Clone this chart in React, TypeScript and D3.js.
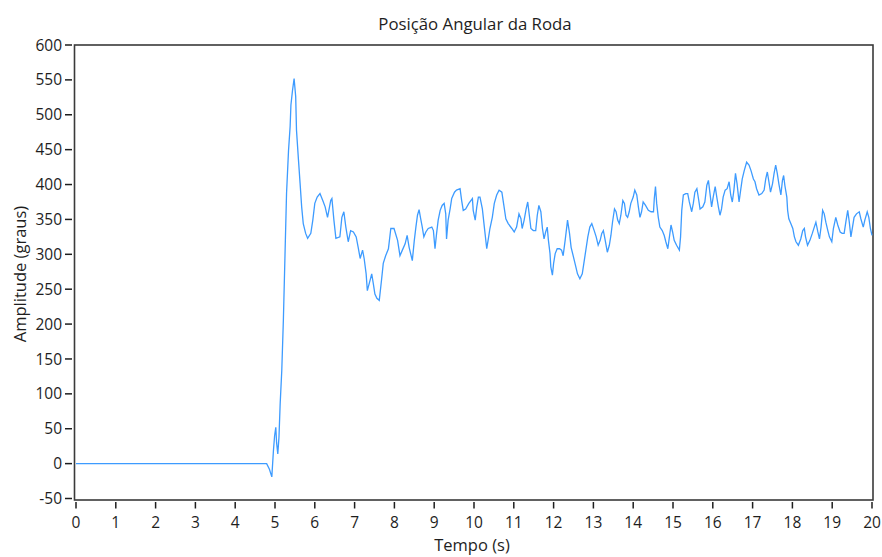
import React, { useEffect, useRef } from 'react';
import * as d3 from 'd3';

// tempo (s) e posição angular (graus)
const tempo = [
  0, 4.79, 4.86, 4.92, 4.96, 4.99, 5.02, 5.04, 5.07, 5.1, 5.13, 5.17, 5.21, 5.25, 5.29, 5.34, 5.38, 5.4, 5.44, 5.48,
  5.52, 5.54, 5.59, 5.63, 5.67, 5.71, 5.77, 5.82, 5.9, 5.95, 6.0, 6.06, 6.13, 6.2, 6.26, 6.32, 6.37, 6.4, 6.43, 6.48,
  6.53, 6.63, 6.68, 6.73, 6.78, 6.84, 6.9, 6.97, 7.04, 7.09, 7.14, 7.2, 7.24, 7.29, 7.32, 7.39, 7.43, 7.47, 7.51, 7.56,
  7.62, 7.68, 7.72, 7.78, 7.85, 7.91, 7.99,
  8.08, 8.14, 8.2, 8.27, 8.32, 8.37, 8.42, 8.45, 8.5, 8.54, 8.58, 8.62, 8.66, 8.7, 8.74, 8.79, 8.85, 8.94, 8.98, 9.02,
  9.06, 9.1, 9.15, 9.2, 9.25, 9.29, 9.31, 9.35, 9.4, 9.44, 9.51, 9.56, 9.65, 9.69, 9.73, 9.79, 9.87, 9.96, 9.98, 10.03,
  10.07, 10.11, 10.15, 10.21, 10.26, 10.32, 10.36, 10.4, 10.46, 10.51, 10.57, 10.63, 10.7, 10.75, 10.8, 10.86, 10.95, 11.01,
  11.07, 11.13, 11.18, 11.21, 11.26, 11.31, 11.35, 11.39, 11.43, 11.49, 11.55, 11.59, 11.63, 11.68, 11.72, 11.76, 11.8,
  11.84, 11.87, 11.91, 11.93, 11.97, 12.0, 12.04, 12.09, 12.15, 12.2, 12.24, 12.29, 12.33, 12.35, 12.4, 12.44, 12.5, 12.55,
  12.6, 12.66, 12.72, 12.76, 12.81, 12.86, 12.91, 12.96, 13.02, 13.07, 13.12, 13.17, 13.21, 13.25, 13.29, 13.35, 13.4,
  13.44, 13.48, 13.53, 13.57, 13.61, 13.65, 13.69, 13.74, 13.78, 13.82, 13.86, 13.9, 13.94, 14.0, 14.04,
  14.09, 14.13, 14.17, 14.21, 14.25, 14.31, 14.38, 14.45, 14.51, 14.53, 14.56, 14.59, 14.63, 14.67, 14.73, 14.78, 14.82,
  14.87, 14.91, 14.95, 14.99, 15.03, 15.09, 15.16, 15.19, 15.22, 15.26, 15.32, 15.37, 15.41, 15.47, 15.51, 15.55, 15.6,
  15.64, 15.68, 15.75, 15.8, 15.85, 15.89, 15.93, 15.97, 16.01, 16.06, 16.1, 16.14, 16.18, 16.22, 16.26, 16.31, 16.36,
  16.41, 16.45, 16.49, 16.53, 16.57, 16.61, 16.66, 16.7, 16.74, 16.79, 16.85, 16.91, 16.96, 17.02,
  17.06, 17.1, 17.16, 17.23, 17.29, 17.33, 17.37, 17.41, 17.45, 17.5, 17.54, 17.58, 17.62, 17.66, 17.71, 17.75, 17.78,
  17.81, 17.86, 17.88, 17.91, 17.96, 18.01, 18.05, 18.09, 18.15, 18.21, 18.26, 18.3, 18.33, 18.38, 18.44, 18.5, 18.55,
  18.59, 18.64, 18.68, 18.72, 18.76, 18.8, 18.84, 18.89, 18.93, 18.99, 19.03, 19.09, 19.14, 19.2, 19.25, 19.3, 19.35,
  19.39, 19.43, 19.47, 19.51, 19.55, 19.61, 19.68, 19.72, 19.78, 19.82, 19.88, 19.92, 19.96, 20.0,
];

const angulo = [
  0, 0, -8, -19, 18, 40, 52, 30, 14, 38, 86, 133, 205, 296, 387, 449, 483, 514, 535, 552,
  526, 478, 435, 402, 368, 344, 330, 323, 330, 349, 373, 382, 387, 377, 368, 353, 368, 377, 380, 349,
  323, 325, 353, 361, 339, 318, 334, 332, 325, 310, 294, 306, 294, 272, 248, 263, 272, 258, 243, 237,
  234, 265, 287, 298, 308, 337, 337,
  320, 298, 306, 315, 327, 310, 298, 291, 320, 339, 356, 364, 351, 339, 325, 332, 337, 339, 334, 308,
  330, 349, 363, 370, 373, 358, 322, 349, 365, 380, 389, 392, 394, 377, 363, 365, 373, 380, 363, 349,
  368, 382, 382, 365, 339, 308, 322, 337, 353, 373, 385, 392, 389, 370, 351, 344, 337, 332,
  339, 358, 351, 337, 349, 365, 375, 356, 337, 334, 334, 356, 370, 361, 337, 322, 332,
  339, 320, 301, 282, 270, 287, 301, 308, 308, 306, 298, 320, 339, 349, 330, 310, 296, 284,
  272, 265, 272, 287, 306, 325, 339, 344, 334, 325, 313, 320, 330, 334, 322, 303, 313,
  327, 346, 365, 361, 349, 344, 356, 377, 373, 356, 353, 361, 373, 382, 392,
  385, 368, 353, 361, 375, 370, 363, 361, 361, 380, 397, 373, 353, 339, 334, 327, 318,
  308, 325, 342, 332, 320, 313, 306, 325, 363, 385, 387, 387, 375, 361, 373, 389, 394,
  380, 365, 368, 375, 399, 406, 387, 368, 382, 397, 382, 368, 356, 365, 382, 392, 394,
  404, 385, 375, 392, 416, 401, 375, 392, 408, 420, 432, 428, 420, 408,
  404, 394, 385, 387, 392, 408, 418, 404, 389, 401, 416, 428, 416, 401, 385, 406, 413,
  399, 382, 363, 351, 344, 337, 325, 318, 313, 322, 334, 337, 325, 313, 320, 330, 339,
  346, 332, 322, 339, 363, 358, 346, 334, 325, 318, 337, 353, 342, 332, 330, 330, 349,
  363, 346, 325, 339, 353, 358, 361, 351, 339, 349, 361, 353, 337, 327,
];

const xTicks = d3.range(0, 21, 1);
const yTicks = d3.range(-50, 601, 50);

const App = () => {
  const ref = useRef<SVGSVGElement>(null);

  useEffect(() => {
    const svg = d3.select(ref.current);
    svg.selectAll('*').remove();

    const font = '"Open Sans", "Segoe UI", sans-serif';
    const ink = '#1e1e1e';

    const x = d3.scaleLinear().domain([0, 20]).range([76, 872]);
    const y = d3.scaleLinear().domain([-50, 600]).range([498.5, 45]);

    // moldura do gráfico
    svg.append('rect')
      .attr('x', 74.5).attr('y', 45)
      .attr('width', 873 - 74.5).attr('height', 500 - 45)
      .attr('fill', '#ffffff')
      .attr('stroke', '#3a3a3a')
      .attr('stroke-width', 1.6);

    // curva
    const pts = tempo.map((t, i) => [t, angulo[i]] as [number, number]);
    const line = d3.line<[number, number]>()
      .x(d => x(d[0]))
      .y(d => y(d[1]));

    svg.append('path')
      .datum(pts)
      .attr('d', line)
      .attr('fill', 'none')
      .attr('stroke', '#3d9bff')
      .attr('stroke-width', 1.3);

    // eixo Y
    const gy = svg.append('g');
    gy.selectAll('line')
      .data(yTicks)
      .enter().append('line')
      .attr('x1', 65).attr('x2', 72)
      .attr('y1', d => y(d)).attr('y2', d => y(d))
      .attr('stroke', ink).attr('stroke-width', 1.5);
    gy.selectAll('text')
      .data(yTicks)
      .enter().append('text')
      .attr('x', 62)
      .attr('y', d => y(d))
      .attr('dy', '0.36em')
      .attr('text-anchor', 'end')
      .attr('font-family', font)
      .attr('font-size', 15.5)
      .attr('fill', ink)
      .text(d => String(d));

    // eixo X
    const gx = svg.append('g');
    gx.selectAll('line')
      .data(xTicks)
      .enter().append('line')
      .attr('x1', d => x(d)).attr('x2', d => x(d))
      .attr('y1', 502).attr('y2', 508.5)
      .attr('stroke', ink).attr('stroke-width', 1.5);
    gx.selectAll('text')
      .data(xTicks)
      .enter().append('text')
      .attr('x', d => x(d))
      .attr('y', 527.5)
      .attr('text-anchor', 'middle')
      .attr('font-family', font)
      .attr('font-size', 15.5)
      .attr('fill', ink)
      .text(d => String(d));

    // títulos
    svg.append('text')
      .attr('x', 475).attr('y', 30)
      .attr('text-anchor', 'middle')
      .attr('font-family', font)
      .attr('font-size', 16.8)
      .attr('fill', ink)
      .text('Posição Angular da Roda');

    svg.append('text')
      .attr('x', 472).attr('y', 551)
      .attr('text-anchor', 'middle')
      .attr('font-family', font)
      .attr('font-size', 16.5)
      .attr('fill', ink)
      .text('Tempo (s)');

    svg.append('text')
      .attr('transform', 'translate(26,274) rotate(-90)')
      .attr('text-anchor', 'middle')
      .attr('font-family', font)
      .attr('font-size', 16.5)
      .attr('fill', ink)
      .text('Amplitude (graus)');
  }, []);

  return (
    <svg
      ref={ref}
      width={882}
      height={557}
      style={{ position: 'absolute', left: 0, top: 0, background: '#ffffff' }}
    />
  );
};

export default App;
